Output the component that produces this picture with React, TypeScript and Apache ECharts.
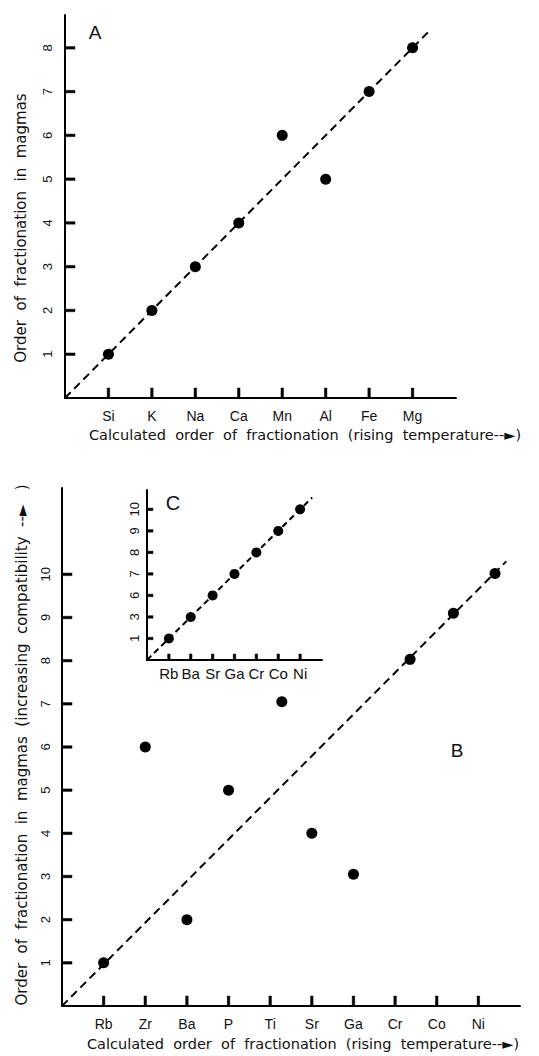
import React, { useEffect, useRef } from "react";
import * as echarts from "echarts";

// ---------- Panel A ----------
const elementsA = ["Si", "K", "Na", "Ca", "Mn", "Al", "Fe", "Mg"];
const calcOrderA = [1, 2, 3, 4, 5, 6, 7, 8];
const magmaOrderA = [1, 2, 3, 4, 6, 5, 7, 8];
const yTicksA = [1, 2, 3, 4, 5, 6, 7, 8];
const xTicksA = [1, 2, 3, 4, 5, 6, 7, 8];
const fitLineA = [[0, 0], [8.35, 8.35]];

// ---------- Panel B ----------
const elementsB = ["Rb", "Zr", "Ba", "P", "Ti", "Sr", "Ga", "Cr", "Co", "Ni"];
const calcOrderB = [1, 2, 3, 4, 5.28, 6, 7, 8.36, 9.4, 10.4];
const magmaOrderB = [1, 6, 2, 5, 7.05, 4, 3.05, 8.03, 9.1, 10.02];
const yTicksB = [1, 2, 3, 4, 5, 6, 7, 8, 9, 10];
const xTicksB = [1, 2, 3, 4, 5, 6, 7, 8, 9, 10];
const fitLineB = [[0, 0], [10.67, 10.3]];

// ---------- Inset C ----------
const elementsC = ["Rb", "Ba", "Sr", "Ga", "Cr", "Co", "Ni"];
const calcOrderC = [1, 2, 3, 4, 5, 6, 7];
const magmaOrderC = [1, 2, 3, 4, 5, 6, 7];
const yLabelsC = ["1", "3", "6", "7", "8", "9", "10"];
const ticksC = [1, 2, 3, 4, 5, 6, 7];
const fitLineC = [[0, 0], [7.55, 7.55]];

const xTitle = "Calculated  order  of  fractionation  (rising  temperature--►)";
const yTitleA = "Order  of  fractionation  in  magmas";
const yTitleB = "Order  of  fractionation  in  magmas  (increasing  compatibility  --►   )";

const INK = "#000";
const TXT = "#111";
const LABEL_FONT = "'Liberation Sans', Arial, Helvetica, sans-serif";
const TITLE_FONT = "'DejaVu Sans', 'Liberation Sans', sans-serif";

const axisLine = { show: true, onZero: false, lineStyle: { color: INK, width: 2 } };

// Tick marks as a custom series placed through the axes' scales
function tickSeries(grid: number, xTicks: number[], yTicks: number[], len: number, w: number) {
  const data = [
    ...xTicks.map((v) => [v, 0, 0]),
    ...yTicks.map((v) => [0, v, 1]),
  ];
  return {
    type: "custom", xAxisIndex: grid, yAxisIndex: grid, z: 10, clip: false,
    data,
    renderItem: (_params: any, api: any) => {
      const p = api.coord([api.value(0), api.value(1)]);
      const dir = api.value(2);
      const shape = dir === 0
        ? { x: p[0] - w / 2, y: p[1] - len, width: w, height: len }
        : { x: p[0], y: p[1] - w / 2, width: len, height: w };
      return { type: "rect", shape, style: { fill: INK, stroke: INK, lineWidth: 0.5 } };
    },
  };
}

export default function App() {
  const ref = useRef<HTMLDivElement>(null);

  useEffect(() => {
    if (!ref.current) return;
    const chart = echarts.init(ref.current, undefined, { renderer: "svg" });

    const pts = (xs: number[], ys: number[]) => xs.map((x, i) => [x, ys[i]]);
    const dashed = { type: [8, 5] as any, width: 2, color: INK };
    const dot = { color: INK, opacity: 1 };

    const option: any = {
      animation: false,
      backgroundColor: "#fff",
      grid: [
        { left: 65, top: 15, width: 391, height: 383 },
        { left: 62, top: 488, width: 458, height: 518 },
        { left: 147, top: 490, width: 175, height: 170 },
      ],
      xAxis: [
        {
          gridIndex: 0, type: "value", min: 0, max: 9, axisLine, splitLine: { show: false },
          axisTick: { show: false },
          axisLabel: {
            customValues: xTicksA, margin: 11, color: TXT, fontSize: 14, fontFamily: LABEL_FONT,
            formatter: (v: number) => elementsA[Math.round(v) - 1] ?? "",
          },
        },
        {
          gridIndex: 1, type: "value", min: 0, max: 11, axisLine, splitLine: { show: false },
          axisTick: { show: false },
          axisLabel: {
            customValues: xTicksB, margin: 11, color: TXT, fontSize: 14, fontFamily: LABEL_FONT,
            formatter: (v: number) => elementsB[Math.round(v) - 1] ?? "",
          },
        },
        {
          gridIndex: 2, type: "value", min: 0, max: 8, axisLine, splitLine: { show: false },
          axisTick: { show: false },
          axisLabel: {
            customValues: ticksC, margin: 6, color: TXT, fontSize: 15,
            fontFamily: "'Liberation Sans Narrow', 'Liberation Sans', Arial, sans-serif",
            formatter: (v: number) => elementsC[Math.round(v) - 1] ?? "",
          },
        },
      ],
      yAxis: [
        {
          gridIndex: 0, type: "value", min: 0, max: 8.75, axisLine, splitLine: { show: false },
          axisTick: { show: false },
          axisLabel: {
            customValues: yTicksA, rotate: 90, margin: 11, color: TXT, fontSize: 13, fontFamily: LABEL_FONT,
          },
        },
        {
          gridIndex: 1, type: "value", min: 0, max: 12, axisLine, splitLine: { show: false },
          axisTick: { show: false },
          axisLabel: {
            customValues: yTicksB, rotate: 90, margin: 10, color: TXT, fontSize: 13, fontFamily: LABEL_FONT,
          },
        },
        {
          gridIndex: 2, type: "value", min: 0, max: 7.9, axisLine, splitLine: { show: false },
          axisTick: { show: false },
          axisLabel: {
            customValues: ticksC, rotate: 90, margin: 6, color: TXT, fontSize: 13, fontFamily: LABEL_FONT,
            formatter: (v: number) => yLabelsC[Math.round(v) - 1] ?? "",
          },
        },
      ],
      series: [
        // Panel A
        { type: "line", xAxisIndex: 0, yAxisIndex: 0, data: fitLineA, showSymbol: false, symbol: "none", lineStyle: dashed, z: 2 },
        { type: "scatter", xAxisIndex: 0, yAxisIndex: 0, data: pts(calcOrderA, magmaOrderA), symbolSize: 11, itemStyle: dot, z: 3 },
        tickSeries(0, xTicksA, yTicksA, 10, 2.5),
        // Panel B
        { type: "line", xAxisIndex: 1, yAxisIndex: 1, data: fitLineB, showSymbol: false, symbol: "none", lineStyle: dashed, z: 2 },
        { type: "scatter", xAxisIndex: 1, yAxisIndex: 1, data: pts(calcOrderB, magmaOrderB), symbolSize: 11, itemStyle: dot, z: 3 },
        tickSeries(1, xTicksB, yTicksB, 10, 2.5),
        // Inset C
        { type: "line", xAxisIndex: 2, yAxisIndex: 2, data: fitLineC, showSymbol: false, symbol: "none", lineStyle: { ...dashed, type: [6, 4] }, z: 2 },
        { type: "scatter", xAxisIndex: 2, yAxisIndex: 2, data: pts(calcOrderC, magmaOrderC), symbolSize: 10, itemStyle: dot, z: 3 },
        tickSeries(2, ticksC, ticksC, 6, 2.5),
      ],
      graphic: [
        { type: "text", x: 95, y: 32, style: { text: "A", fontSize: 19, fontFamily: LABEL_FONT, fill: TXT, align: "center", verticalAlign: "middle" } },
        { type: "text", x: 457, y: 750, style: { text: "B", fontSize: 19, fontFamily: LABEL_FONT, fill: TXT, align: "center", verticalAlign: "middle" } },
        { type: "text", x: 173, y: 503, style: { text: "C", fontSize: 20, fontFamily: LABEL_FONT, fill: TXT, align: "center", verticalAlign: "middle" } },
        { type: "text", x: 89, y: 435, style: { text: xTitle, fontSize: 14.5, fontFamily: TITLE_FONT, fill: TXT, align: "left", verticalAlign: "middle" } },
        { type: "text", x: 87, y: 1044, style: { text: xTitle, fontSize: 14.5, fontFamily: TITLE_FONT, fill: TXT, align: "left", verticalAlign: "middle" } },
        { type: "text", x: 21, y: 228, rotation: Math.PI / 2, style: { text: yTitleA, fontSize: 15, fontFamily: TITLE_FONT, fill: TXT, align: "center", verticalAlign: "middle" } },
        { type: "text", x: 22, y: 745, rotation: Math.PI / 2, style: { text: yTitleB, fontSize: 15, fontFamily: TITLE_FONT, fill: TXT, align: "center", verticalAlign: "middle" } },
      ],
    };

    chart.setOption(option);
    return () => chart.dispose();
  }, []);

  return (
    <div
      ref={ref}
      style={{ position: "absolute", left: 0, top: 0, width: 539, height: 1056, background: "#fff" }}
    />
  );
}
